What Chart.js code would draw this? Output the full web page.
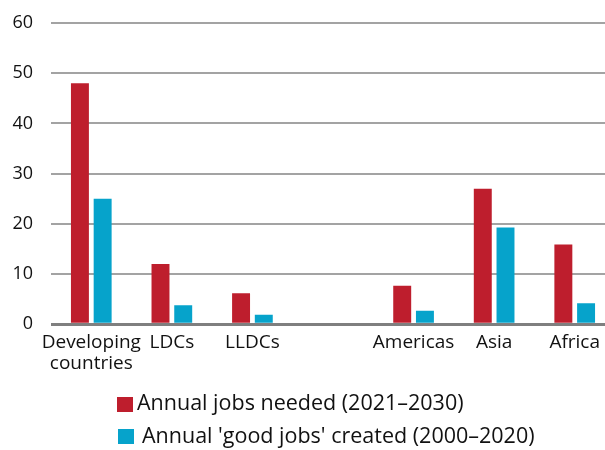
<!DOCTYPE html>
<html>
<head>
<meta charset="utf-8">
<script src="https://cdn.jsdelivr.net/npm/chart.js@4"></script>
<style>
  html, body { margin: 0; padding: 0; background: #fff; overflow: hidden; width: 605px; height: 450px; }
  #wrap { position: relative; width: 616px; height: 382px; }
  #legend { position: absolute; left: 0; top: 0; width: 605px; height: 450px; pointer-events: none;
            font-family: "Open Sans", sans-serif; font-size: 21.5px; color: #111; }
  .item { position: absolute; white-space: nowrap; }
  .box { position: absolute; width: 16px; height: 15px; }
</style>
</head>
<body>
<div id="wrap"><canvas id="myChart" width="616" height="382"></canvas></div>
<div id="legend"></div>
<script>
// categories (empty slot keeps the gap between groups)
var categories = [['Developing', 'countries'], 'LDCs', 'LLDCs', '', 'Americas', 'Asia', 'Africa'];
var jobsNeeded = [48, 12, 6.2, null, 7.7, 27, 15.9];
var goodJobsCreated = [25, 3.8, 1.9, null, 2.7, 19.3, 4.2];
var seriesNames = ['Annual jobs needed (2021\u20132030)', "Annual 'good jobs' created (2000\u20132020)"];
var seriesColors = ['#BE1E2D', '#06A3CB'];
var yTicks = [0, 10, 20, 30, 40, 50, 60];

var ctx = document.getElementById('myChart').getContext('2d');
var myChart = new Chart(ctx, {
    type: 'bar',
    data: {
        labels: categories,
        datasets: [{
            label: seriesNames[0],
            data: jobsNeeded,
            backgroundColor: seriesColors[0],
            categoryPercentage: 0.564,
            barPercentage: 0.79
        }, {
            label: seriesNames[1],
            data: goodJobsCreated,
            backgroundColor: seriesColors[1],
            categoryPercentage: 0.564,
            barPercentage: 0.79
        }]
    },
    options: {
        responsive: false,
        animation: false,
        layout: { padding: { top: 23, right: 1, left: 0, bottom: 0 } },
        plugins: {
            legend: { display: false },
            tooltip: { enabled: false }
        },
        scales: {
            x: {
                grid: { display: false, drawTicks: false },
                border: { display: false },
                ticks: {
                    color: '#111',
                    padding: 7,
                    maxRotation: 0,
                    autoSkip: false,
                    font: { family: 'Open Sans', size: 19, lineHeight: 1.15 }
                }
            },
            y: {
                min: 0,
                max: yTicks[yTicks.length - 1],
                afterFit: function (scale) {
                    scale.width = 51;
                    scale.paddingTop = 0;
                    scale.paddingBottom = 0;
                },
                afterBuildTicks: function (scale) {
                    scale.ticks = yTicks.map(function (v) { return { value: v }; });
                },
                border: { display: false },
                grid: {
                    drawTicks: false,
                    color: function (c) { return c.tick && c.tick.value === 0 ? '#7f7f7f' : '#a3a3a3'; },
                    lineWidth: function (c) { return c.tick && c.tick.value === 0 ? 3 : 2; }
                },
                ticks: {
                    color: '#111',
                    padding: 18,
                    font: { family: 'Open Sans', size: 18, lineHeight: 1 }
                }
            }
        }
    }
});

// legend below the chart, one series per row
var legend = document.getElementById('legend');
var rows = [{ box: [117, 397], text: [137, 387] }, { box: [118, 429], text: [142, 420] }];
seriesNames.forEach(function (name, i) {
    var b = document.createElement('div');
    b.className = 'box';
    b.style.left = rows[i].box[0] + 'px';
    b.style.top = rows[i].box[1] + 'px';
    b.style.background = seriesColors[i];
    legend.appendChild(b);
    var t = document.createElement('div');
    t.className = 'item';
    t.style.left = rows[i].text[0] + 'px';
    t.style.top = rows[i].text[1] + 'px';
    t.textContent = name;
    legend.appendChild(t);
});
</script>
</body>
</html>
